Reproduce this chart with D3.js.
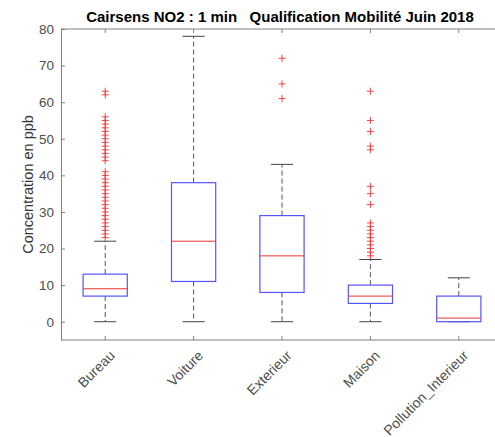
<!DOCTYPE html>
<html>
<head>
<meta charset="utf-8">
<script src="https://cdn.jsdelivr.net/npm/d3@7"></script>
<style>
  body { margin: 0; background: #fff; }
  text { font-family: "Liberation Sans", Arial, sans-serif; }
</style>
</head>
<body>
<div class="canvas"></div>
<script>
const categories = ['Bureau', 'Voiture', 'Exterieur', 'Maison', 'Pollution_Interieur'];
const lowerWhisker = [0, 0, 0, 0, 0];
const q1 = [7, 11, 8, 5, 0];
const medians = [9, 22, 18, 7, 1];
const q3 = [13, 38, 29, 10, 7];
const upperWhisker = [22, 78, 43, 17, 12];
const outliers = [
    [23, 24, 25, 26, 27, 28, 29, 30, 31, 32, 33, 34, 35, 36, 37, 38, 39, 40, 41,
     44, 45, 46, 47, 48, 49, 50, 51, 52, 53, 54, 55, 56, 62, 63],
    [],
    [61, 65, 72],
    [18, 19, 20, 21, 22, 23, 24, 25, 26, 27, 32, 35, 37, 47, 48, 52, 55, 63],
    []
];
const yTicks = [0, 10, 20, 30, 40, 50, 60, 70, 80];

const dims = { width: 495, height: 437 };
const plot = { left: 61, right: 503, top: 29, bottom: 340 };

const svg = d3.select('.canvas')
                .append('svg')
                .attr('width', dims.width)
                .attr('height', dims.height);

const x = d3.scaleBand()
            .domain(categories)
            .range([plot.left, plot.right])
            .padding(0);

const y = d3.scaleLinear()
            .domain([-5, 80])
            .range([plot.bottom, plot.top]);

const tickColor = '#808080';

// axes frame
svg.append('line')
    .attr('x1', plot.left).attr('x2', plot.right)
    .attr('y1', plot.top).attr('y2', plot.top)
    .attr('stroke', tickColor);
svg.append('line')
    .attr('x1', plot.left).attr('x2', plot.right)
    .attr('y1', plot.bottom).attr('y2', plot.bottom)
    .attr('stroke', tickColor);

const yAxis = svg.append('g')
    .attr('transform', `translate(${plot.left}, 0)`)
    .call(d3.axisLeft(y).tickValues(yTicks).tickSizeInner(-4).tickSizeOuter(0).tickPadding(7));
yAxis.select('.domain').attr('stroke', tickColor);
yAxis.selectAll('line').attr('stroke', tickColor);
yAxis.selectAll('text')
    .attr('font-size', 13.5)
    .attr('fill', '#4d4d4d')
    .style('font-family', '"Liberation Sans", Arial, sans-serif');

const xAxis = svg.append('g')
    .attr('transform', `translate(0, ${plot.bottom})`)
    .call(d3.axisBottom(x).tickSizeInner(-4).tickSizeOuter(0).tickFormat(''));
xAxis.select('.domain').remove();
xAxis.selectAll('line').attr('stroke', tickColor);

// top ticks
svg.append('g')
    .selectAll('line')
    .data(categories)
    .enter()
    .append('line')
    .attr('x1', d => x(d) + x.bandwidth() / 2)
    .attr('x2', d => x(d) + x.bandwidth() / 2)
    .attr('y1', plot.top)
    .attr('y2', plot.top + 4)
    .attr('stroke', tickColor);

// rotated category labels
svg.append('g')
    .selectAll('text')
    .data(categories)
    .enter()
    .append('text')
    .attr('transform', d => `translate(${x(d) + x.bandwidth() / 2 + 7}, ${plot.bottom + 13}) rotate(-45)`)
    .attr('text-anchor', 'end')
    .attr('dy', '0.35em')
    .attr('font-size', 14)
    .attr('fill', '#4d4d4d')
    .text(d => d);

// boxes
const stats = categories.map((c, i) => ({
    name: c, lo: lowerWhisker[i], q1: q1[i], med: medians[i], q3: q3[i], hi: upperWhisker[i], out: outliers[i]
}));

const boxW = x.bandwidth() * 0.5;
const capW = x.bandwidth() * 0.25;

const groups = svg.append('g')
    .selectAll('g')
    .data(stats)
    .enter()
    .append('g')
    .attr('transform', d => `translate(${x(d.name) + x.bandwidth() / 2}, 0)`);

// whiskers (dashed)
groups.append('line')
    .attr('x1', 0).attr('x2', 0)
    .attr('y1', d => y(d.q3)).attr('y2', d => y(d.hi))
    .attr('stroke', '#555')
    .attr('stroke-dasharray', '5,3');
groups.append('line')
    .attr('x1', 0).attr('x2', 0)
    .attr('y1', d => y(d.q1)).attr('y2', d => y(d.lo))
    .attr('stroke', '#555')
    .attr('stroke-dasharray', '5,3');

// caps
groups.append('line')
    .attr('x1', -capW / 2).attr('x2', capW / 2)
    .attr('y1', d => y(d.hi)).attr('y2', d => y(d.hi))
    .attr('stroke', '#444');
groups.append('line')
    .attr('x1', -capW / 2).attr('x2', capW / 2)
    .attr('y1', d => y(d.lo)).attr('y2', d => y(d.lo))
    .attr('stroke', '#444');

groups.append('rect')
    .attr('x', -boxW / 2)
    .attr('width', boxW)
    .attr('y', d => y(d.q3))
    .attr('height', d => y(d.q1) - y(d.q3))
    .attr('fill', 'none')
    .attr('stroke', '#5555ff')
    .attr('stroke-width', 1.2);

groups.append('line')
    .attr('x1', -boxW / 2).attr('x2', boxW / 2)
    .attr('y1', d => y(d.med)).attr('y2', d => y(d.med))
    .attr('stroke', '#ee3333')
    .attr('stroke-width', 1);

// outliers as '+'
groups.each(function(d) {
    d3.select(this).selectAll('path.out')
        .data(d.out)
        .enter()
        .append('path')
        .attr('class', 'out')
        .attr('d', v => `M-3.5,${y(v)}H3.5M0,${y(v) - 3.5}V${y(v) + 3.5}`)
        .attr('stroke', '#ee3333')
        .attr('stroke-width', 0.9)
        .attr('fill', 'none');
});

// title
svg.append('text')
    .attr('x', (plot.left + plot.right) / 2 - 2)
    .attr('y', 22)
    .attr('text-anchor', 'middle')
    .attr('font-size', 15)
    .attr('font-weight', 'bold')
    .attr('fill', '#000')
    .style('white-space', 'pre')
    .text('Cairsens NO2 : 1 min   Qualification Mobilité Juin 2018');

// y label
svg.append('text')
    .attr('transform', `translate(28, ${(plot.top + plot.bottom) / 2}) rotate(-90)`)
    .attr('text-anchor', 'middle')
    .attr('dy', '0.35em')
    .attr('font-size', 14.5)
    .attr('fill', '#333')
    .text('Concentration en ppb');
</script>
</body>
</html>
